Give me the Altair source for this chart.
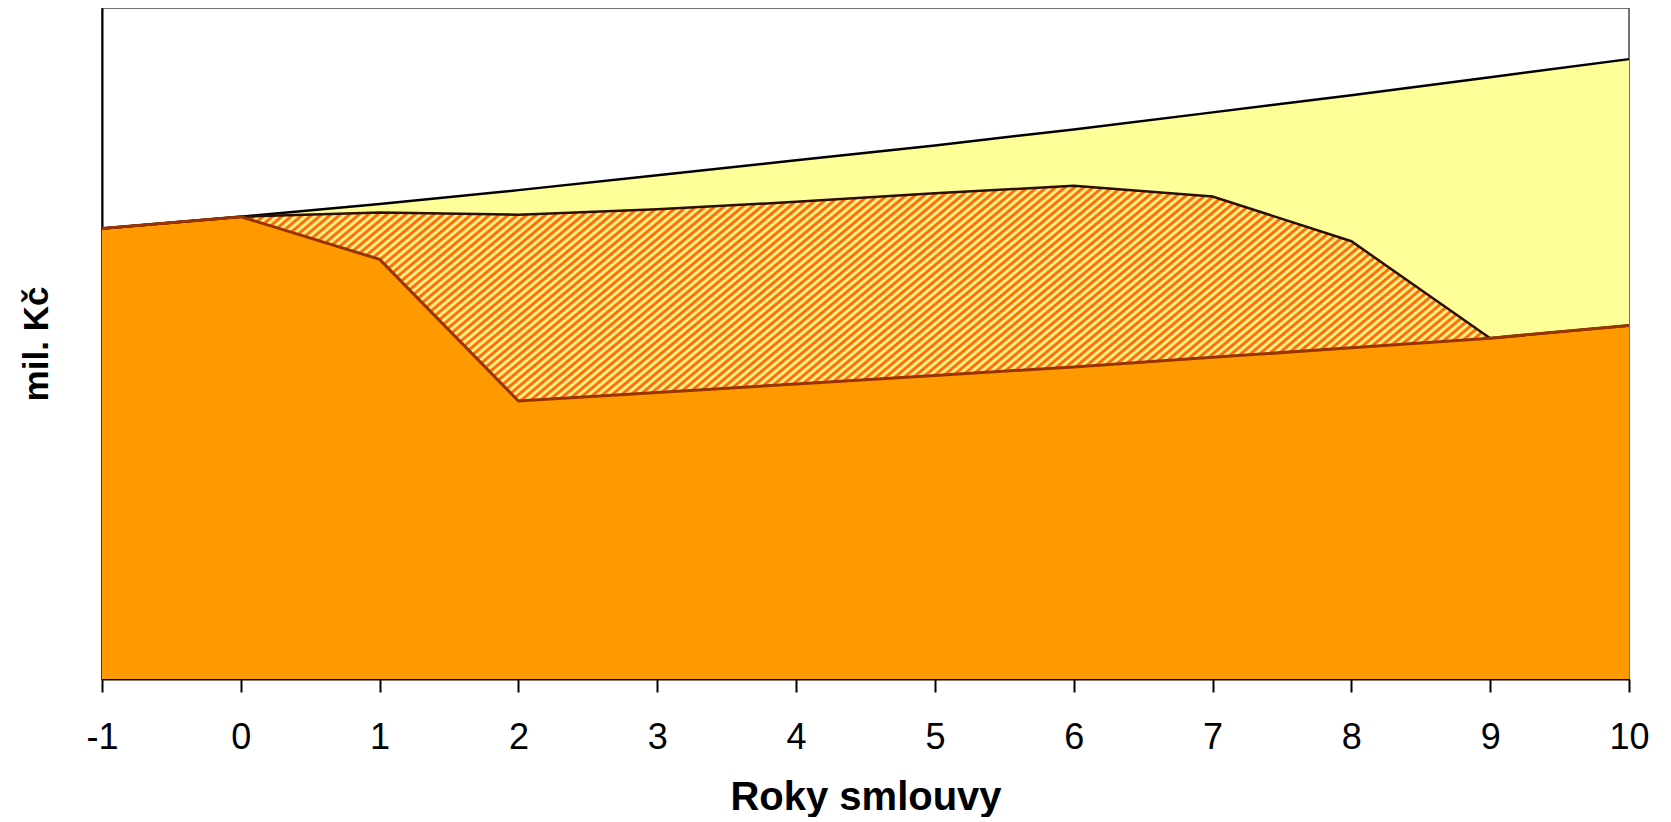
import math
import altair as alt
import pandas as pd

# ---- data (arbitrary units: y axis has no labels) ----
years = [-1, 0, 1, 2, 3, 4, 5, 6, 7, 8, 9, 10]
total_top = [423, 434, 446, 459, 473, 487, 501, 516, 532, 548, 565, 582]   # yellow area top
hatch_top = [423, 434, 438, 436, 441, 448, 456, 463, 453, 411, 320, 332]   # hatched area top
orange_top = [423, 434, 394, 261, 269, 277, 285, 293, 302, 311, 320, 332]  # orange area top
x_ticks = list(range(-1, 11))

df = pd.DataFrame({"year": years, "total": total_top, "hatch": hatch_top, "orange": orange_top})

# ---- layout ----
W, H = 1527, 671
Y_MAX = 630
FONT = "Liberation Sans"

# ---- diagonal stripe fill for the hatched area (gradient in bbox units) ----
ang = math.radians(40)
bbox_h = max(hatch_top) * H / Y_MAX
gx = math.sin(ang) / bbox_h
gy = math.cos(ang) / W
s = (gx + gy) / (gx * gx + gy * gy)
period = 6.0
n_per = int((W * math.sin(ang) + bbox_h * math.cos(ang)) / period)
c_or, c_ye = "#FF6A00", "#FFF590"
stops = []
for k in range(n_per):
    for off, col in ((0.0, c_or), (0.22, c_or), (0.5, c_ye), (0.72, c_ye)):
        stops.append(alt.GradientStop(color=col, offset=min(1.0, (k + off) / n_per)))
stops.append(alt.GradientStop(color=c_or, offset=1.0))
stripes = alt.Gradient(gradient="linear", stops=stops, x1=0, y1=0, x2=s * gx, y2=s * gy)

x_axis = alt.Axis(
    values=x_ticks, title="Roky smlouvy", grid=False,
    labelExpr="'' + datum.value",
    labelFontSize=36, labelFont=FONT, labelColor="black", labelPadding=28,
    labelFlush=False, labelOverlap=False,
    tickSize=13, tickWidth=2, tickColor="black",
    domainColor="black", domainWidth=2,
    titleFont=FONT, titleFontSize=40, titleFontWeight="bold", titleColor="black",
    titleBaseline="alphabetic", titleY=130,
)
y_axis = alt.Axis(
    title="mil. Kč", labels=False, ticks=False, grid=False,
    domainColor="black", domainWidth=2,
    titleFont=FONT, titleFontSize=35, titleFontWeight="bold", titleColor="black",
    titleBaseline="alphabetic", titleX=-55, titleY=H / 2, titleAngle=270,
)
x_enc = alt.X("year:Q", scale=alt.Scale(domain=[-1, 10], nice=False, zero=False), axis=x_axis)


def y_enc(field):
    return alt.Y(f"{field}:Q", scale=alt.Scale(domain=[0, Y_MAX], nice=False), axis=y_axis)


base = alt.Chart(df)
yellow = base.mark_area(fill="#FFFF99", opacity=1).encode(x=x_enc, y=y_enc("total"))
hatch = base.mark_area(fill=stripes, opacity=1).encode(x=x_enc, y=y_enc("hatch"))
orange = base.mark_area(fill="#FF9900", opacity=1).encode(x=x_enc, y=y_enc("orange"))

line_top = base.mark_line(color="black", strokeWidth=2.5).encode(x=x_enc, y=y_enc("total"))
line_hatch = base.mark_line(color="#2b0f00", strokeWidth=2.5).encode(x=x_enc, y=y_enc("hatch"))
line_orange = base.mark_line(color="#993300", strokeWidth=3).encode(x=x_enc, y=y_enc("orange"))

chart = alt.layer(yellow, hatch, orange, line_top, line_hatch, line_orange).properties(
    width=W, height=H,
    autosize=alt.AutoSizeParams(type="none"),
    padding={"left": 94, "top": 0, "right": 30, "bottom": 138},
    background="white",
).configure_view(stroke="#444444", strokeWidth=1.5)

chart.save("out.html", embed_options={"renderer": "svg", "actions": False})
